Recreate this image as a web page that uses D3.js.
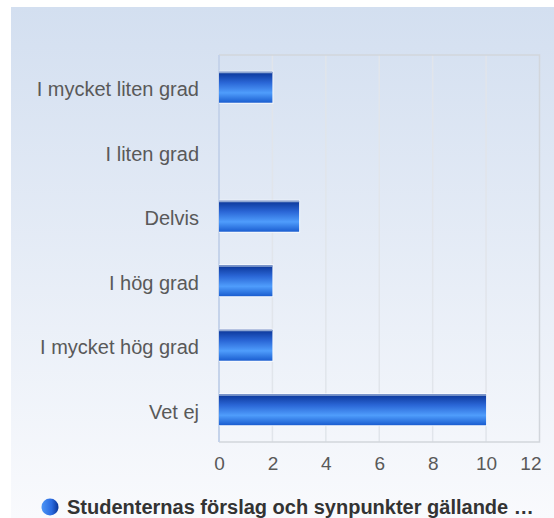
<!DOCTYPE html>
<html>
<head>
<meta charset="utf-8">
<script src="https://cdn.jsdelivr.net/npm/d3@7"></script>
<style>
  body { margin: 0; background: #fff; }
  text { font-family: "Liberation Sans", Arial, sans-serif; }
</style>
</head>
<body>
<div id="chart"></div>
<script>
var categories = ["I mycket liten grad", "I liten grad", "Delvis", "I hög grad", "I mycket hög grad", "Vet ej"];
var values = [2, 0, 3, 2, 2, 10];
var xTicks = [0, 2, 4, 6, 8, 10, 12];
var seriesName = "Studenternas förslag och synpunkter gällande …";

var width = 554;
var height = 518;
var margin = { left: 219, right: 14.5, top: 55, bottom: 76 };

var svg = d3.select("#chart").append("svg")
  .attr("width", width)
  .attr("height", height);

var defs = svg.append("defs");

var bg = defs.append("linearGradient").attr("id", "bg")
  .attr("x1", 0).attr("y1", 0).attr("x2", 0).attr("y2", 1);
bg.append("stop").attr("offset", "0%").attr("stop-color", "#d3dff0");
bg.append("stop").attr("offset", "100%").attr("stop-color", "#f9fafd");

var bar = defs.append("linearGradient").attr("id", "bar")
  .attr("x1", 0).attr("y1", 0).attr("x2", 0).attr("y2", 1);
bar.append("stop").attr("offset", "0%").attr("stop-color", "#0a3496");
bar.append("stop").attr("offset", "35%").attr("stop-color", "#2a66d6");
bar.append("stop").attr("offset", "68%").attr("stop-color", "#4f9dfc");
bar.append("stop").attr("offset", "100%").attr("stop-color", "#1a5dd0");

var dot = defs.append("linearGradient").attr("id", "dot")
  .attr("x1", 0).attr("y1", 0).attr("x2", 1).attr("y2", 0);
dot.append("stop").attr("offset", "0%").attr("stop-color", "#4d95f5");
dot.append("stop").attr("offset", "60%").attr("stop-color", "#2a6ae0");
dot.append("stop").attr("offset", "100%").attr("stop-color", "#0a3496");

svg.append("rect")
  .attr("x", 11).attr("y", 7)
  .attr("width", width - 11).attr("height", height - 7)
  .attr("fill", "url(#bg)");

var x = d3.scaleLinear()
  .domain([0, 12])
  .range([margin.left, width - margin.right]);

var y = d3.scaleBand()
  .domain(categories)
  .range([margin.top, height - margin.bottom])
  .paddingInner(0.52)
  .paddingOuter(0.26);

var plotTop = margin.top;
var plotBottom = height - margin.bottom;

// grid
svg.append("g").selectAll("line")
  .data(xTicks.slice(1, -1))
  .enter().append("line")
  .attr("x1", function (d) { return x(d); })
  .attr("x2", function (d) { return x(d); })
  .attr("y1", plotTop)
  .attr("y2", plotBottom)
  .attr("stroke", "#e1e5eb")
  .attr("stroke-width", 1.5);

// frame
svg.append("path")
  .attr("d", "M" + x(0) + "," + plotTop + "H" + x(12) + "V" + plotBottom + "H" + x(0))
  .attr("fill", "none")
  .attr("stroke", "#d2d6dc")
  .attr("stroke-width", 1.5);

svg.append("line")
  .attr("x1", x(0)).attr("x2", x(0))
  .attr("y1", plotTop).attr("y2", plotBottom)
  .attr("stroke", "#c5d3ea")
  .attr("stroke-width", 2);

// bars
var bars = svg.append("g").selectAll("g")
  .data(categories)
  .enter().append("g");

bars.append("rect")
  .attr("x", x(0))
  .attr("y", function (d) { return y(d) - 1; })
  .attr("width", function (d, i) { return values[i] > 0 ? x(values[i]) - x(0) + 1 : 0; })
  .attr("height", y.bandwidth() + 2)
  .attr("fill", "#fbfcff")
  .attr("opacity", 0.8);

bars.append("rect")
  .attr("x", x(0))
  .attr("y", function (d) { return y(d); })
  .attr("width", function (d, i) { return x(values[i]) - x(0); })
  .attr("height", y.bandwidth())
  .attr("fill", "url(#bar)");

bars.append("rect")
  .attr("x", x(0))
  .attr("y", function (d) { return y(d); })
  .attr("width", function (d, i) { return x(values[i]) - x(0); })
  .attr("height", function (d, i) { return values[i] > 0 ? 1.5 : 0; })
  .attr("fill", "#8ea6d2");

// category labels
svg.append("g").selectAll("text")
  .data(categories)
  .enter().append("text")
  .attr("x", 199)
  .attr("y", function (d) { return y(d) + y.bandwidth() / 2; })
  .attr("dy", "0.46em")
  .attr("text-anchor", "end")
  .attr("font-size", 20)
  .attr("fill", "#595959")
  .text(function (d) { return d; });

// x axis
var xAxis = d3.axisBottom(x).tickValues(xTicks).tickSize(0).tickPadding(0);
var gx = svg.append("g")
  .attr("transform", "translate(0," + (plotBottom + 14) + ")")
  .call(xAxis);
gx.select(".domain").remove();
gx.selectAll("text")
  .attr("font-size", 19)
  .attr("fill", "#595959")
  .attr("dy", "0.72em")
  .style("font-family", "\"Liberation Sans\", Arial, sans-serif");
gx.selectAll(".tick").filter(function (d) { return d === 12; })
  .select("text")
  .attr("text-anchor", "end")
  .attr("x", 1.5);

// legend
svg.append("circle")
  .attr("cx", 50).attr("cy", 507).attr("r", 8.5)
  .attr("fill", "url(#dot)");

svg.append("text")
  .attr("x", 67).attr("y", 514)
  .attr("font-size", 20)
  .attr("font-weight", "bold")
  .attr("fill", "#333")
  .text(seriesName);
</script>
</body>
</html>
